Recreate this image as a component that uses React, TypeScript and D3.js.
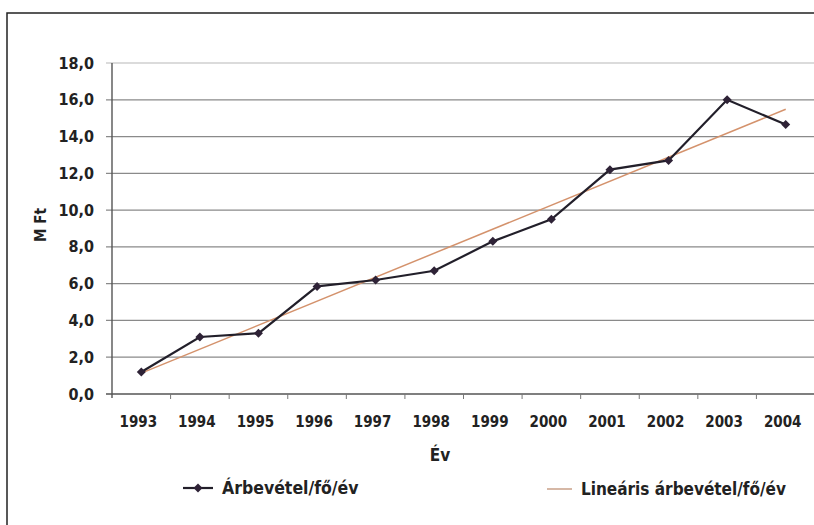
import React from "react";
import * as d3 from "d3";

const years = ["1993","1994","1995","1996","1997","1998","1999","2000","2001","2002","2003","2004"];
const revenue = [1.2, 3.1, 3.3, 5.85, 6.2, 6.7, 8.3, 9.5, 12.2, 12.7, 16.0, 14.65];
const yTicks = [0, 2, 4, 6, 8, 10, 12, 14, 16, 18];
const seriesName = "Árbevétel/fő/év";
const trendName = "Lineáris árbevétel/fő/év";
const yTitle = "M Ft";
const xTitle = "Év";

const W = 814, H = 525;
const left = 112, right = 815, top = 63, bottom = 394;
const font = "'Liberation Sans Narrow', 'DejaVu Sans Condensed', sans-serif";

export default function App() {
  const x = d3.scaleBand().domain(years).range([left, right]);
  const y = d3.scaleLinear().domain([0, 18]).range([bottom, top]);
  const cx = (i: number) => (x(years[i]) as number) + x.bandwidth() / 2;

  // linear regression (trend line)
  const n = revenue.length;
  const idx = d3.range(n);
  const mx = d3.mean(idx) as number;
  const my = d3.mean(revenue) as number;
  const slope = d3.sum(idx, (i) => (i - mx) * (revenue[i] - my)) / d3.sum(idx, (i) => (i - mx) ** 2);
  const icpt = my - slope * mx;

  const line = d3.line<number>().x((_, i) => cx(i)).y((v) => y(v));
  const trendPts: [number, number][] = [[cx(0), y(icpt)], [cx(n - 1), y(icpt + slope * (n - 1))]];

  const diamond = (px: number, py: number, s = 4.5) =>
    `M${px},${py - s}L${px + s},${py}L${px},${py + s}L${px - s},${py}Z`;

  const tickXs = years.slice(1).map((yr) => x(yr) as number);

  return (
    <svg width={W} height={H} style={{ position: "absolute", left: 0, top: 0, background: "#fff" }}>
      <rect x={7} y={13} width={W + 20} height={H + 20} fill="#fff" stroke="#222" strokeWidth={1.5} />
      {/* gridlines */}
      {yTicks.map((t) => (
        <line key={t} x1={left - 6} x2={right} y1={y(t)} y2={y(t)}
          stroke={t === 18 ? "#cfcfcf" : t === 0 ? "#555" : "#8a8a8a"} strokeWidth={t === 0 ? 1.6 : 1.3} />
      ))}
      {/* y axis */}
      <line x1={left} x2={left} y1={top} y2={bottom + 4} stroke="#555" strokeWidth={1.4} />
      {tickXs.map((tx, i) => (
        <line key={i} x1={tx} x2={tx} y1={bottom} y2={bottom + 5} stroke="#777" strokeWidth={1} />
      ))}
      {yTicks.map((t) => (
        <text key={t} x={94} y={y(t)} dy="0.35em" textAnchor="end" fontFamily={font}
          fontWeight="bold" fontSize={16} fill="#222">{t.toFixed(1).replace(".", ",")}</text>
      ))}
      {years.map((yr, i) => (
        <text key={yr} x={cx(i) - 3} y={427} textAnchor="middle" fontFamily={font}
          fontWeight="bold" fontSize={15} fill="#222">{yr}</text>
      ))}
      <text transform={`translate(46,225) rotate(-90)`} textAnchor="middle" fontFamily={font}
        fontWeight="bold" fontSize={15} fill="#222">{yTitle}</text>
      <text x={440} y={461} textAnchor="middle" fontFamily={font} fontWeight="bold" fontSize={17} fill="#222">{xTitle}</text>
      {/* trend */}
      <line x1={trendPts[0][0]} y1={trendPts[0][1]} x2={trendPts[1][0]} y2={trendPts[1][1]}
        stroke="#d4926c" strokeWidth={1.5} />
      {/* series */}
      <path d={line(revenue) as string} fill="none" stroke="#221f2a" strokeWidth={2.2} />
      {revenue.map((v, i) => (
        <path key={i} d={diamond(cx(i), y(v))} fill="#2e2236" />
      ))}
      {/* legend */}
      <line x1={183} x2={213} y1={488} y2={488} stroke="#221f2a" strokeWidth={2.2} />
      <path d={diamond(198, 488)} fill="#2e2236" />
      <text x={222} y={494} fontFamily={font} fontWeight="bold" fontSize={17.5} fill="#222">{seriesName}</text>
      <line x1={547} x2={572} y1={489} y2={489} stroke="#c9a088" strokeWidth={1.5} />
      <text x={581} y={495} fontFamily={font} fontWeight="bold" fontSize={17} fill="#222">{trendName}</text>
    </svg>
  );
}
